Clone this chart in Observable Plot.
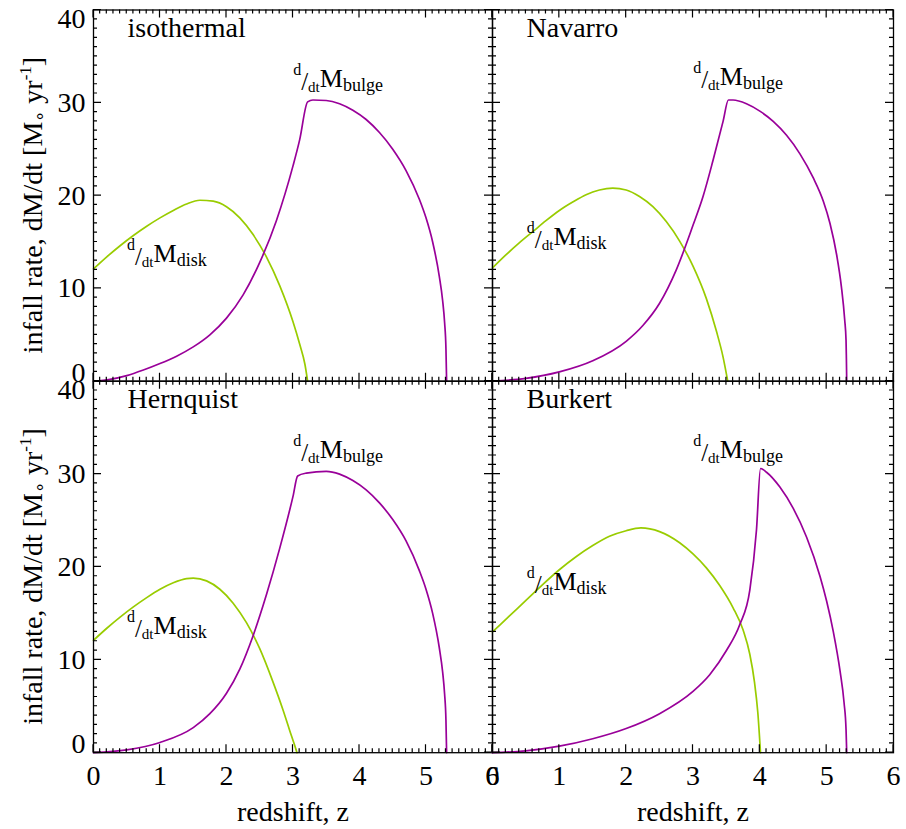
<!DOCTYPE html>
<html><head><meta charset="utf-8">
<script src="https://cdn.jsdelivr.net/npm/d3@7"></script>
<script src="https://cdn.jsdelivr.net/npm/@observablehq/plot@0.6"></script>
<style>
html,body{margin:0;padding:0;background:#fff;}
#chart{position:relative;width:906px;height:829px;font-family:"Liberation Serif","Times New Roman",serif;}
#chart svg{position:absolute;left:0;top:0;overflow:visible;}
</style></head><body><div id="chart"></div>
<script>
// ---------- data ----------
const panelNames = ["isothermal", "Navarro", "Hernquist", "Burkert"];
const xTicks = [0, 1, 2, 3, 4, 5, 6];
const yTicks = [0, 10, 20, 30, 40];
const xTitle = "redshift, z";

const isoDiskZ  = [0, 0.2, 0.4, 0.6, 0.8, 1.0, 1.2, 1.4, 1.6, 1.8, 2.0, 2.2, 2.4, 2.6, 2.8, 3.0, 3.1, 3.18, 3.22];
const isoDisk   = [12.1, 13.4, 14.6, 15.7, 16.7, 17.6, 18.4, 19.1, 19.5, 19.4, 18.8, 17.6, 15.8, 13.4, 10.3, 6.4, 4.0, 1.8, 0];
const isoBulgeZ = [0, 0.25, 0.5, 0.75, 1.0, 1.25, 1.5, 1.75, 2.0, 2.25, 2.5, 2.75, 3.0, 3.1, 3.22, 3.3, 3.5, 3.7, 3.9, 4.1, 4.3, 4.5, 4.7, 4.9, 5.0, 5.1, 5.2, 5.25, 5.28, 5.3, 5.31];
const isoBulge  = [0, 0.2, 0.6, 1.2, 1.9, 2.7, 3.7, 5.0, 6.8, 9.3, 12.8, 17.3, 23.2, 26.0, 30.1, 30.3, 30.25, 29.9, 29.2, 28.2, 26.8, 25.0, 22.7, 19.6, 17.6, 15.0, 11.3, 8.7, 6.3, 3.5, 0];

const nfwDiskZ  = [0, 0.2, 0.4, 0.6, 0.8, 1.0, 1.2, 1.4, 1.6, 1.8, 2.0, 2.2, 2.4, 2.6, 2.8, 3.0, 3.2, 3.35, 3.45, 3.52];
const nfwDisk   = [12.2, 13.6, 14.9, 16.1, 17.3, 18.4, 19.3, 20.1, 20.6, 20.8, 20.6, 19.9, 18.8, 17.2, 15.1, 12.4, 8.9, 5.4, 2.6, 0];
const nfwBulgeZ = [0, 0.5, 1.0, 1.5, 2.0, 2.25, 2.5, 2.75, 3.0, 3.15, 3.3, 3.45, 3.53, 3.6, 3.8, 4.0, 4.2, 4.4, 4.6, 4.8, 4.95, 5.05, 5.15, 5.22, 5.27, 5.29, 5.295, 5.3];
const nfwBulge  = [0, 0.3, 1.0, 2.2, 4.3, 6.0, 8.4, 12.0, 16.8, 19.9, 23.8, 28.0, 30.3, 30.3, 29.9, 29.1, 28.0, 26.5, 24.5, 21.9, 19.4, 17.0, 13.6, 10.2, 6.6, 4.4, 2.5, 0];

const hqDiskZ   = [0, 0.2, 0.4, 0.6, 0.8, 1.0, 1.2, 1.4, 1.5, 1.7, 1.9, 2.1, 2.3, 2.5, 2.7, 2.85, 2.95, 3.02, 3.06];
const hqDisk    = [12.1, 13.4, 14.6, 15.7, 16.7, 17.6, 18.3, 18.75, 18.8, 18.5, 17.6, 16.1, 14.0, 11.2, 7.6, 4.6, 2.4, 0.9, 0];
const hqBulgeZ  = [0, 0.5, 1.0, 1.5, 1.75, 2.0, 2.2, 2.4, 2.6, 2.8, 3.0, 3.07, 3.2, 3.5, 3.7, 3.9, 4.1, 4.3, 4.5, 4.7, 4.9, 5.0, 5.1, 5.2, 5.25, 5.28, 5.3, 5.31];
const hqBulge   = [0, 0.3, 1.1, 2.7, 4.2, 6.4, 9.0, 12.6, 17.0, 22.0, 27.6, 29.8, 30.1, 30.3, 30.0, 29.3, 28.3, 26.9, 25.1, 22.8, 19.6, 17.6, 15.0, 11.3, 8.7, 6.3, 3.5, 0];

const bkDiskZ   = [0, 0.25, 0.5, 0.75, 1.0, 1.25, 1.5, 1.75, 2.0, 2.22, 2.5, 2.8, 3.0, 3.2, 3.4, 3.6, 3.75, 3.85, 3.92, 3.97, 4.01];
const bkDisk    = [13.0, 14.7, 16.4, 18.1, 19.7, 21.1, 22.3, 23.3, 23.9, 24.2, 23.8, 22.6, 21.4, 19.9, 18.0, 15.6, 13.2, 10.6, 7.6, 4.3, 0];
const bkBulgeZ  = [0, 0.5, 1.0, 1.5, 2.0, 2.5, 3.0, 3.25, 3.5, 3.7, 3.85, 3.95, 4.01, 4.1, 4.3, 4.5, 4.7, 4.9, 5.0, 5.1, 5.2, 5.26, 5.29, 5.3];
const bkBulge   = [0, 0.2, 0.7, 1.5, 2.6, 4.2, 6.6, 8.4, 11.0, 13.8, 17.5, 24.0, 30.6, 30.2, 28.6, 26.3, 23.2, 19.0, 16.3, 13.0, 8.8, 5.4, 2.5, 0];

// label anchors (redshift, rate) for the d/dt M annotations
const diskLabelZ  = [0.51, 0.52, 0.51, 0.52];
const diskLabelV  = [12.8, 14.6, 12.7, 17.5];
const bulgeLabelZ = [3.01, 3.01, 3.01, 3.01];
const bulgeLabelV = [31.7, 31.9, 31.7, 31.7];

// ---------- styling / layout ----------
const W = 906, H = 829;
const GREEN = "#99cc00", PURPLE = "#990099";
const FONT = "'Liberation Serif','Times New Roman',serif";
const colX = [[93, 492], [492, 893]];
const rowY = [[9.5, 380.7], [380.7, 752.2]];

const series = (zs, vs) => zs.map((z, i) => ({z, v: vs[i]}));
const panels = [
  {title: panelNames[0], disk: series(isoDiskZ, isoDisk), bulge: series(isoBulgeZ, isoBulge), col: 0, row: 0},
  {title: panelNames[1], disk: series(nfwDiskZ, nfwDisk), bulge: series(nfwBulgeZ, nfwBulge), col: 1, row: 0},
  {title: panelNames[2], disk: series(hqDiskZ, hqDisk), bulge: series(hqBulgeZ, hqBulge), col: 0, row: 1},
  {title: panelNames[3], disk: series(bkDiskZ, bkDisk), bulge: series(bkBulgeZ, bkBulge), col: 1, row: 1}
];

const xMinor = d3.range(0, 61).map(i => i / 10).filter(v => !xTicks.includes(v));
const yMinor = d3.range(0, 41).filter(v => !yTicks.includes(v));

// inward ticks on all four sides, positioned through the plot's own scales
function tickMark(index, scales, values, dim) {
  const x0 = dim.marginLeft, x1 = dim.width - dim.marginRight;
  const y0 = dim.marginTop, y1 = dim.height - dim.marginBottom;
  const MAJ = 8, MIN = 4;
  let d = "";
  const xs = [...xTicks.map(t => [t, MAJ]), ...xMinor.map(t => [t, MIN])];
  const ys = [...yTicks.map(t => [t, MAJ]), ...yMinor.map(t => [t, MIN])];
  for (const [t, len] of xs) {
    const x = scales.x(t);
    d += `M${x},${y1}v${-len}M${x},${y0}v${len}`;
  }
  for (const [t, len] of ys) {
    const y = scales.y(t);
    d += `M${x0},${y}h${len}M${x1},${y}h${-len}`;
  }
  const g = d3.create("svg:g");
  g.append("path").attr("d", d).attr("fill", "none").attr("stroke", "black").attr("stroke-width", 1.2);
  return g.node();
}

function rateLabel(z, v, sub) {
  return (index, scales) => {
    const g = d3.create("svg:g");
    const t = g.append("text")
      .attr("x", scales.x(z)).attr("y", scales.y(v))
      .attr("text-anchor", "start")
      .attr("font-family", FONT).attr("font-size", 25).attr("fill", "black");
    t.append("tspan").attr("font-size", 16).attr("dy", -12).text("d");
    t.append("tspan").attr("font-size", 25).attr("dy", 15).text("/");
    t.append("tspan").attr("font-size", 15).attr("dy", 2).text("dt");
    t.append("tspan").attr("font-size", 26).attr("dy", -5).text("M");
    t.append("tspan").attr("font-size", 18).attr("dy", 4).text(sub);
    return g.node();
  };
}

function yTitleMark(index, scales, values, dim) {
  const cy = (dim.marginTop + dim.height - dim.marginBottom) / 2 + 10;
  const g = d3.create("svg:g").attr("transform", `translate(42,${cy}) rotate(-90)`);
  const t = g.append("text").attr("text-anchor", "middle")
    .attr("font-family", FONT).attr("font-size", 28).attr("fill", "black");
  t.append("tspan").text("infall rate, dM/dt [M");
  t.append("tspan").attr("font-size", 18).attr("dy", 3).text("\u2218");
  t.append("tspan").attr("dy", -3).text("\u00a0yr");
  t.append("tspan").attr("font-size", 17).attr("dy", -11).text("-1");
  t.append("tspan").attr("dy", 11).text("]");
  return g.node();
}

const fmt = d => String(d);
const chart = document.getElementById("chart");
panels.forEach((p, i) => {
  const [L, R] = colX[p.col], [T, B] = rowY[p.row];
  const marks = [
    Plot.line(p.disk, {x: "z", y: "v", stroke: GREEN, strokeWidth: 1.7, curve: "monotone-x"}),
    Plot.line(p.bulge, {x: "z", y: "v", stroke: PURPLE, strokeWidth: 1.7, curve: "monotone-x"}),
    Plot.frame({stroke: "black", strokeWidth: 1.3}),
    tickMark,
    Plot.text([p.title], {text: d => d, frameAnchor: "top-left", dx: 34, dy: 27, lineAnchor: "bottom", textAnchor: "start", fontSize: 28, fill: "black"}),
    rateLabel(diskLabelZ[i], diskLabelV[i], "disk"),
    rateLabel(bulgeLabelZ[i], bulgeLabelV[i], "bulge")
  ];
  if (p.col === 0) {
    const lo = {anchor: "left", tickSize: 0, tickPadding: 8, fontSize: 28, label: null, tickFormat: fmt};
    marks.push(
      Plot.axisY({...lo, ticks: yTicks.filter(v => v > 0 && v < 40)}),
      Plot.axisY({...lo, ticks: [yTicks[yTicks.length - 1]], dy: 9}),
      Plot.axisY({...lo, ticks: [yTicks[0]], dy: -8.5}),
      yTitleMark
    );
  } else {
    marks.push(Plot.axisY({anchor: "left", ticks: [], label: null}));
  }
  if (p.row === 1) {
    marks.push(
      Plot.axisX({anchor: "bottom", ticks: xTicks, tickSize: 0, tickPadding: 12, fontSize: 28, label: null, tickFormat: fmt}),
      Plot.text([xTitle], {text: d => d, frameAnchor: "bottom", dy: 48, lineAnchor: "top", fontSize: 28, fill: "black"})
    );
  } else {
    marks.push(Plot.axisX({anchor: "bottom", ticks: [], label: null}));
  }
  const svg = Plot.plot({
    width: W, height: H,
    marginLeft: L, marginRight: W - R, marginTop: T, marginBottom: H - B,
    x: {domain: [0, 6]},
    y: {domain: [0, 40]},
    style: {background: "transparent", fontFamily: FONT, overflow: "visible", color: "black"},
    marks
  });
  chart.append(svg);
});
</script>
</body></html>
